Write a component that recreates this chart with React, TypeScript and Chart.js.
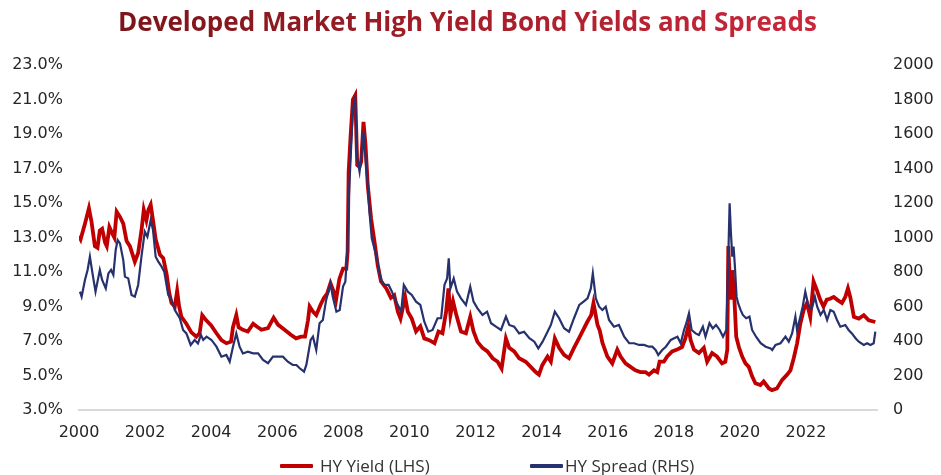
import React, { useEffect, useRef } from "react";
import { Chart, registerables } from "chart.js";

Chart.register(...registerables);

const yieldDates = [
  2000.0, 2000.05, 2000.18, 2000.3, 2000.38, 2000.48, 2000.56, 2000.63, 2000.7, 2000.79, 2000.84, 2000.92, 2000.99,
  2001.07, 2001.14, 2001.24, 2001.34, 2001.44, 2001.54, 2001.69, 2001.79, 2001.89, 2001.96,
  2002.04, 2002.1, 2002.17, 2002.24, 2002.32, 2002.45, 2002.55, 2002.65, 2002.73, 2002.8, 2002.9, 2002.97,
  2003.03, 2003.1, 2003.25, 2003.4, 2003.55, 2003.65, 2003.73, 2003.85,
  2004.0, 2004.16, 2004.31, 2004.46, 2004.6, 2004.66, 2004.76, 2004.83, 2004.96,
  2005.11, 2005.27, 2005.37, 2005.52, 2005.72, 2005.89,
  2006.02, 2006.22, 2006.42, 2006.57, 2006.72, 2006.84, 2006.93, 2006.98,
  2007.08, 2007.18, 2007.31, 2007.41, 2007.51, 2007.61, 2007.71, 2007.78, 2007.88, 2007.99,
  2008.09, 2008.13, 2008.16, 2008.22, 2008.29, 2008.36, 2008.42, 2008.49, 2008.54, 2008.61, 2008.67, 2008.74, 2008.84, 2008.94,
  2009.04, 2009.14, 2009.3, 2009.44, 2009.54, 2009.65, 2009.73, 2009.87, 2009.95,
  2010.07, 2010.2, 2010.33, 2010.45, 2010.6, 2010.76, 2010.88,
  2011.0, 2011.11, 2011.18, 2011.24, 2011.32, 2011.42, 2011.56, 2011.71, 2011.84, 2011.94,
  2012.06, 2012.21, 2012.36, 2012.52, 2012.67, 2012.79, 2012.92,
  2013.02, 2013.17, 2013.32, 2013.52, 2013.67, 2013.82, 2013.92,
  2014.02, 2014.18, 2014.28, 2014.4, 2014.53, 2014.68, 2014.83, 2014.98,
  2015.13, 2015.26, 2015.38, 2015.5, 2015.57, 2015.69, 2015.76, 2015.84, 2015.99,
  2016.14, 2016.29, 2016.39, 2016.54, 2016.69, 2016.84, 2016.99,
  2017.14, 2017.25, 2017.4, 2017.5, 2017.57, 2017.7, 2017.8, 2017.95,
  2018.1, 2018.25, 2018.35, 2018.44, 2018.51, 2018.61, 2018.76, 2018.91,
  2019.01, 2019.16, 2019.31, 2019.46, 2019.56, 2019.62, 2019.65, 2019.72, 2019.77, 2019.82, 2019.89, 2019.97,
  2020.07, 2020.17, 2020.27, 2020.37, 2020.47, 2020.62, 2020.72, 2020.88, 2020.97,
  2021.12, 2021.28, 2021.43, 2021.53, 2021.63, 2021.73, 2021.83, 2021.93,
  2022.03, 2022.13, 2022.23, 2022.33, 2022.43, 2022.53, 2022.63, 2022.73, 2022.84, 2022.94,
  2023.09, 2023.19, 2023.27, 2023.34, 2023.45, 2023.6, 2023.75, 2023.9, 2024.1,
];

// HY Yield (LHS), percent
const yieldValues = [
  13.1, 12.9, 13.8, 14.7, 13.9, 12.5, 12.4, 13.4, 13.5, 12.7, 12.5, 13.6, 13.3,
  13.0, 14.5, 14.2, 13.8, 12.8, 12.5, 11.6, 12.1, 13.4, 14.6,
  14.0, 14.6, 14.9, 14.0, 12.9, 12.0, 11.8, 10.9, 9.8, 9.2, 9.0, 9.9,
  9.0, 8.4, 8.0, 7.5, 7.25, 7.45, 8.5, 8.2,
  7.9, 7.45, 7.05, 6.87, 6.96, 7.8, 8.5, 7.8, 7.65,
  7.55, 8.0, 7.85, 7.65, 7.75, 8.35,
  7.95, 7.65, 7.35, 7.15, 7.25, 7.25, 8.2, 9.0,
  8.7, 8.5, 9.1, 9.5, 9.75, 10.35, 9.85, 9.4, 10.6, 11.2,
  11.2, 12.2, 16.8, 18.9, 21.0, 21.25, 17.2, 17.1, 17.4, 19.7, 18.4, 16.0, 14.1, 12.8,
  11.4, 10.45, 10.05, 9.5, 9.65, 8.7, 8.3, 9.55, 8.7,
  8.3, 7.55, 7.85, 7.15, 7.05, 6.87, 7.55,
  7.45, 8.7, 10.05, 8.5, 9.3, 8.5, 7.55, 7.45, 8.4, 7.55,
  6.95, 6.6, 6.4, 6.0, 5.8, 5.4, 7.15,
  6.6, 6.4, 6.0, 5.8, 5.5, 5.2, 5.05,
  5.6, 6.1, 5.8, 7.15, 6.6, 6.2, 6.0, 6.6,
  7.15, 7.65, 8.1, 8.5, 9.2, 7.95, 7.6, 6.9, 6.1,
  5.7, 6.5, 6.1, 5.7, 5.5, 5.3, 5.2,
  5.2, 5.05, 5.3, 5.2, 5.8, 5.8, 6.1, 6.4,
  6.5, 6.65, 7.15, 7.85, 7.05, 6.5, 6.3, 6.6,
  5.8, 6.3, 6.1, 5.7, 5.8, 6.5, 12.5, 9.4, 11.1, 10.0, 7.25, 6.65,
  6.1, 5.7, 5.5, 4.95, 4.55, 4.45, 4.65, 4.25, 4.15,
  4.25, 4.75, 5.05, 5.3, 6.0, 6.85, 8.0, 8.8,
  9.2, 8.4, 10.45, 9.95, 9.4, 9.0, 9.4, 9.45, 9.55, 9.4,
  9.2, 9.55, 10.05, 9.55, 8.4, 8.3, 8.5, 8.2, 8.1,
];

const spreadDates = [
  2000.03, 2000.08, 2000.18, 2000.26, 2000.33, 2000.4, 2000.5, 2000.58, 2000.63, 2000.7, 2000.81, 2000.89, 2000.97,
  2001.04, 2001.11, 2001.17, 2001.24, 2001.34, 2001.39, 2001.49, 2001.59, 2001.69, 2001.79, 2001.89, 2001.99,
  2002.07, 2002.17, 2002.24, 2002.32, 2002.4, 2002.5, 2002.58, 2002.7, 2002.8, 2002.9,
  2003.05, 2003.15, 2003.25, 2003.38, 2003.5, 2003.6, 2003.69, 2003.76, 2003.86,
  2004.01, 2004.16, 2004.31, 2004.46, 2004.56, 2004.66, 2004.76, 2004.86, 2004.96,
  2005.11, 2005.27, 2005.42, 2005.57, 2005.72, 2005.87,
  2006.02, 2006.17, 2006.32, 2006.47, 2006.58, 2006.68, 2006.81, 2006.88,
  2007.01, 2007.08, 2007.18, 2007.28, 2007.38, 2007.48, 2007.61, 2007.68, 2007.79, 2007.89, 2007.99,
  2008.06, 2008.12, 2008.16, 2008.22, 2008.29, 2008.36, 2008.42, 2008.49, 2008.56, 2008.61, 2008.67, 2008.74, 2008.79, 2008.86, 2008.94,
  2009.04, 2009.12, 2009.24, 2009.37, 2009.47, 2009.55, 2009.65, 2009.75, 2009.83, 2009.95,
  2010.07, 2010.2, 2010.33, 2010.45, 2010.57, 2010.7, 2010.85, 2010.96,
  2011.06, 2011.14, 2011.19, 2011.24, 2011.34, 2011.44, 2011.56, 2011.71, 2011.84, 2011.94,
  2012.06, 2012.21, 2012.35, 2012.47, 2012.62, 2012.77, 2012.92,
  2013.02, 2013.17, 2013.32, 2013.47, 2013.63, 2013.78, 2013.9,
  2014.03, 2014.18, 2014.28, 2014.4, 2014.53, 2014.68, 2014.83, 2014.98,
  2015.14, 2015.27, 2015.39, 2015.49, 2015.55, 2015.64, 2015.74, 2015.84, 2015.94,
  2016.04, 2016.19, 2016.34, 2016.5, 2016.65, 2016.8, 2016.95,
  2017.1, 2017.25, 2017.35, 2017.45, 2017.53, 2017.65, 2017.76, 2017.91,
  2018.01, 2018.11, 2018.21, 2018.31, 2018.38, 2018.46, 2018.54, 2018.66, 2018.76, 2018.88, 2018.96,
  2019.08, 2019.18, 2019.28, 2019.39, 2019.49, 2019.59, 2019.65, 2019.69, 2019.73, 2019.77, 2019.81, 2019.85, 2019.9, 2019.95,
  2020.02, 2020.09, 2020.19, 2020.29, 2020.37, 2020.49, 2020.63, 2020.78, 2020.93, 2020.98,
  2021.08, 2021.23, 2021.38, 2021.48, 2021.58, 2021.68, 2021.73, 2021.83, 2021.9, 2021.98,
  2022.08, 2022.18, 2022.27, 2022.34, 2022.44, 2022.54, 2022.64, 2022.74, 2022.84, 2022.94,
  2023.04, 2023.19, 2023.29, 2023.39, 2023.5, 2023.6, 2023.75, 2023.85, 2023.95, 2024.05, 2024.1,
];

// HY Spread (RHS), basis points
const spreadValues = [
  686, 657, 754, 812, 889, 802, 686, 763, 812, 754, 705, 792, 812,
  783, 927, 985, 966, 869, 773, 763, 667, 657, 725, 889, 1034,
  1005, 1101, 1043, 889, 860, 831, 802, 667, 638, 580,
  532, 464, 444, 377, 406, 386, 435, 406, 425,
  406, 367, 309, 319, 280, 367, 444, 367, 328,
  338, 328, 328, 290, 271, 309,
  309, 309, 280, 261, 261, 242, 222, 261,
  406, 425, 348, 503, 522, 638, 734, 657, 570, 580, 715,
  744, 918, 1208, 1459, 1749, 1807, 1459, 1382, 1498, 1613, 1459, 1304, 1150, 995, 937,
  860, 763, 725, 725, 686, 647, 609, 570, 725, 686,
  667, 628, 609, 512, 454, 464, 532, 532,
  725, 763, 879, 705, 763, 686, 647, 609, 715, 628,
  589, 551, 570, 503, 483, 464, 541,
  493, 483, 444, 454, 416, 396, 357,
  396, 454, 493, 570, 532, 474, 454, 532,
  609, 628, 647, 705, 792, 647, 599, 580, 599,
  522, 483, 493, 425, 387, 387, 377,
  377, 367, 367, 348, 319, 348, 367, 406,
  416, 425, 387, 464, 503, 561, 464, 444, 435, 483, 425,
  503, 473, 493, 464, 425, 464, 889, 1198, 1024, 889, 947, 831, 657, 618,
  580, 551, 532, 541, 464, 425, 387, 367, 357, 348,
  377, 387, 425, 396, 444, 541, 464, 541, 599, 686,
  599, 589, 657, 599, 551, 580, 522, 580, 570, 522,
  483, 493, 464, 444, 416, 396, 377, 387, 377, 387, 454,
];

const xTickYears = [2000, 2002, 2004, 2006, 2008, 2010, 2012, 2014, 2016, 2018, 2020, 2022];
const leftTicks = [3, 5, 7, 9, 11, 13, 15, 17, 19, 21, 23];
const rightTicks = [0, 200, 400, 600, 800, 1000, 1200, 1400, 1600, 1800, 2000];

const RED = "#C00000";
const NAVY = "#26316E";
const TICK_COLOR = "#262626";
const TICK_FONT = { family: "'DejaVu Sans', sans-serif", size: 16 };

export default function App() {
  const canvasRef = useRef<HTMLCanvasElement | null>(null);

  useEffect(() => {
    const canvas = canvasRef.current;
    if (!canvas) return;
    const chart = new Chart(canvas, {
      type: "line",
      data: {
        datasets: [
          {
            label: "HY Spread (RHS)",
            data: spreadDates.map((x, i) => ({ x, y: spreadValues[i] })),
            borderColor: NAVY,
            backgroundColor: NAVY,
            borderWidth: 2.2,
            pointRadius: 0,
            tension: 0,
            yAxisID: "y1",
          },
          {
            label: "HY Yield (LHS)",
            data: yieldDates.map((x, i) => ({ x, y: yieldValues[i] })),
            borderColor: RED,
            backgroundColor: RED,
            borderWidth: 3.8,
            pointRadius: 0,
            tension: 0,
            yAxisID: "y",
          },
        ],
      },
      options: {
        animation: false,
        responsive: false,
        maintainAspectRatio: false,
        layout: { padding: { left: 0, right: 0, top: 65, bottom: 30 } },
        plugins: {
          legend: { display: false },
          tooltip: { enabled: false },
          title: { display: false },
        },
        scales: {
          x: {
            type: "linear",
            min: 2000,
            max: 2024.15,
            grid: { display: false, drawTicks: false },
            border: { display: true, color: "#D9D9D9", width: 2 },
            ticks: {
              padding: 13,
              color: TICK_COLOR,
              font: TICK_FONT,
              autoSkip: false,
              maxRotation: 0,
              callback: (v: any) => String(v),
            },
            afterBuildTicks: (s: any) => {
              s.ticks = xTickYears.map((v) => ({ value: v }));
            },
            afterFit: (s: any) => {
              s.height = 35;
            },
          },
          y: {
            type: "linear",
            position: "left",
            min: 3,
            max: 23,
            grid: { display: false, drawTicks: false },
            border: { display: false },
            ticks: {
              padding: 16,
              color: TICK_COLOR,
              font: TICK_FONT,
              callback: (v: any) => Number(v).toFixed(1) + "%",
            },
            afterBuildTicks: (s: any) => {
              s.ticks = leftTicks.map((v) => ({ value: v }));
            },
            afterFit: (s: any) => {
              s.width = 79;
            },
          },
          y1: {
            type: "linear",
            position: "right",
            min: 0,
            max: 2000,
            grid: { display: false, drawTicks: false },
            border: { display: false },
            ticks: {
              padding: 16,
              color: TICK_COLOR,
              font: TICK_FONT,
              callback: (v: any) => String(v),
            },
            afterBuildTicks: (s: any) => {
              s.ticks = rightTicks.map((v) => ({ value: v }));
            },
            afterFit: (s: any) => {
              s.width = 64;
            },
          },
        },
      },
    });
    return () => chart.destroy();
  }, []);

  const legendText: React.CSSProperties = {
    position: "absolute",
    top: 454,
    height: 24,
    lineHeight: "24px",
    fontFamily: "'Open Sans', sans-serif",
    fontSize: 17,
    color: "#333333",
    whiteSpace: "nowrap",
  };

  return (
    <div style={{ position: "absolute", left: 0, top: 0, width: 941, height: 475, background: "#ffffff", overflow: "hidden" }}>
      <canvas ref={canvasRef} width={941} height={475} style={{ position: "absolute", left: 0, top: 0, width: 941, height: 475 }} />
      <div
        style={{
          position: "absolute",
          left: 0,
          top: 0,
          width: 935,
          height: 42,
          lineHeight: "42px",
          textAlign: "center",
          whiteSpace: "nowrap",
        }}
      >
        <span
          style={{
            display: "inline-block",
            fontFamily: "'Open Sans', sans-serif",
            fontWeight: 700,
            fontSize: 26,
            background: "linear-gradient(90deg, #7A1519 0%, #A51E2A 50%, #C9283B 100%)",
            WebkitBackgroundClip: "text",
            backgroundClip: "text",
            color: "transparent",
            WebkitTextFillColor: "transparent",
          }}
        >
          Developed Market High Yield Bond Yields and Spreads
        </span>
      </div>
      <div style={{ position: "absolute", left: 280, top: 464, width: 33, height: 4, background: RED, borderRadius: 1 }} />
      <div style={{ ...legendText, left: 320 }}>HY Yield (LHS)</div>
      <div style={{ position: "absolute", left: 530, top: 464, width: 33, height: 4, background: NAVY, borderRadius: 1 }} />
      <div style={{ ...legendText, left: 565 }}>HY Spread (RHS)</div>
    </div>
  );
}
